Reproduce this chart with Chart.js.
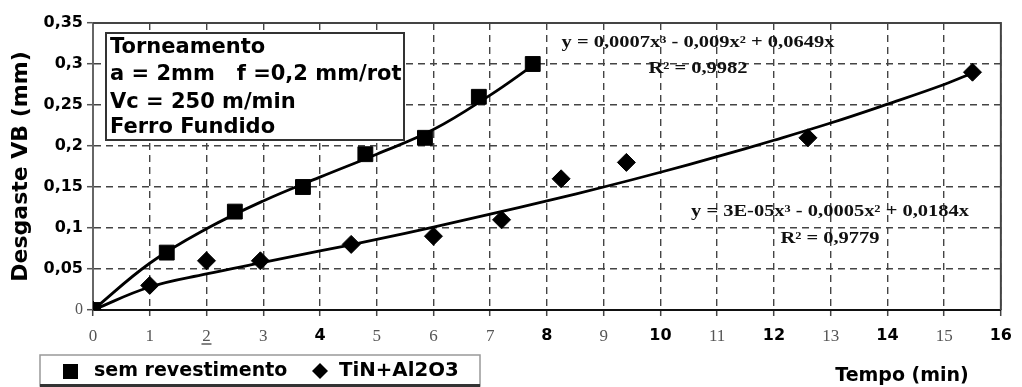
<!DOCTYPE html>
<html>
<head>
<meta charset="utf-8">
<script src="https://cdn.jsdelivr.net/npm/chart.js@4/dist/chart.umd.min.js"></script>
<style>
  body { margin: 0; background: #fff; }
  canvas { display: block; }
</style>
</head>
<body>
<canvas id="wear" width="1022" height="387"></canvas>
<script>
var semX = [0, 1.3, 2.5, 3.7, 4.8, 5.85, 6.8, 7.75];
var semY = [0, 0.07, 0.12, 0.15, 0.19, 0.21, 0.26, 0.30];
var tinX = [0, 1.0, 2.0, 2.95, 4.55, 6.0, 7.2, 8.25, 9.4, 12.6, 15.5];
var tinY = [0, 0.03, 0.06, 0.06, 0.08, 0.09, 0.11, 0.16, 0.18, 0.21, 0.29];

// trend lines as drawn in the picture
var semFitX = [0, 1, 2, 3, 4, 5, 6, 7, 7.75];
var semFitY = [0, 0.057, 0.099, 0.133, 0.162, 0.19, 0.22, 0.262, 0.298];
var tinFitX = [0, 1, 2, 3, 4, 5, 6, 7, 8, 9, 10, 11, 12, 13, 14, 15, 15.5];
var tinFitY = [0, 0.028, 0.044, 0.058, 0.072, 0.086, 0.101, 0.117, 0.133, 0.150, 0.168, 0.187, 0.207, 0.228, 0.251, 0.275, 0.289];

var xTicksBold = [4, 8, 10, 12, 14, 16];
var seriesNames = ['sem revestimento', 'TiN+Al2O3'];
var boxLines = ['Torneamento', 'a = 2mm   f =0,2 mm/rot', 'Vc = 250 m/min', 'Ferro Fundido'];
var eqSem = ['y = 0,0007x\u00b3 - 0,009x\u00b2 + 0,0649x', 'R\u00b2 = 0,9982'];
var eqTin = ['y = 3E-05x\u00b3 - 0,0005x\u00b2 + 0,0184x', 'R\u00b2 = 0,9779'];

var SANS = '"DejaVu Sans", Verdana, sans-serif';
var SERIF = '"Liberation Serif", "Times New Roman", serif';

function pts(xs, ys) {
  return xs.map(function (x, i) { return { x: x, y: ys[i] }; });
}

// text stretched a bit sideways, like the scanned picture
function wideText(ctx, txt, x, y, sx, align) {
  ctx.save();
  ctx.translate(x, y);
  ctx.scale(sx, 1);
  ctx.textAlign = align || 'center';
  ctx.fillText(txt, 0, 0);
  ctx.restore();
}

var extras = {
  id: 'extras',
  afterDraw: function (chart) {
    var ctx = chart.ctx, a = chart.chartArea;
    var xs = chart.scales.x;
    ctx.save();
    // plot frame
    ctx.strokeStyle = '#444';
    ctx.lineWidth = 2;
    ctx.beginPath();
    ctx.moveTo(a.left, a.top); ctx.lineTo(a.right, a.top); ctx.lineTo(a.right, a.bottom);
    ctx.stroke();

    // info box
    ctx.fillStyle = '#fff';
    ctx.fillRect(106, 33, 298, 107);
    ctx.strokeStyle = '#333';
    ctx.lineWidth = 2;
    ctx.strokeRect(106, 33, 298, 107);
    ctx.fillStyle = '#000';
    ctx.font = 'bold 21px ' + SANS;
    ctx.textBaseline = 'middle';
    var ly = [48, 75, 103, 128];
    boxLines.forEach(function (t, i) { wideText(ctx, t, 110, ly[i], 1, 'left'); });

    // trend equations
    ctx.font = 'bold 16px ' + SERIF;
    ctx.fillStyle = '#111';
    wideText(ctx, eqSem[0], 698, 43, 1.28);
    wideText(ctx, eqSem[1], 698, 69, 1.28);
    wideText(ctx, eqTin[0], 830, 212, 1.28);
    wideText(ctx, eqTin[1], 830, 239, 1.28);

    // underline under the "2" tick label
    var p2 = xs.getPixelForValue(2);
    ctx.strokeStyle = '#333';
    ctx.lineWidth = 1.2;
    ctx.beginPath(); ctx.moveTo(p2 - 5, 344); ctx.lineTo(p2 + 5, 344); ctx.stroke();

    // x axis title
    ctx.fillStyle = '#000';
    ctx.font = 'bold 19px ' + SANS;
    wideText(ctx, 'Tempo (min)', 902, 376, 1);

    // legend
    ctx.fillStyle = '#fff';
    ctx.fillRect(40, 355, 440, 31);
    ctx.strokeStyle = '#999';
    ctx.lineWidth = 1.5;
    ctx.strokeRect(40, 355, 440, 31);
    ctx.fillStyle = '#333';
    ctx.fillRect(40, 384, 440, 3);
    ctx.fillStyle = '#000';
    ctx.fillRect(63, 364, 15, 15);
    ctx.beginPath();
    ctx.moveTo(320, 363); ctx.lineTo(328, 371); ctx.lineTo(320, 379); ctx.lineTo(312, 371);
    ctx.closePath(); ctx.fill();
    ctx.font = 'bold 19px ' + SANS;
    wideText(ctx, seriesNames[0], 94, 371, 1, 'left');
    wideText(ctx, seriesNames[1], 339, 371, 1.04, 'left');
    ctx.restore();
  }
};

new Chart(document.getElementById('wear'), {
  type: 'scatter',
  data: {
    datasets: [
      { label: 'fit sem', data: pts(semFitX, semFitY), showLine: true, pointRadius: 0,
        borderColor: '#000', borderWidth: 2.8, tension: 0.4 },
      { label: 'fit tin', data: pts(tinFitX, tinFitY), showLine: true, pointRadius: 0,
        borderColor: '#000', borderWidth: 2.8, tension: 0.4 },
      { label: seriesNames[0], data: pts(semX, semY), pointStyle: 'rect', pointRadius: 10.5,
        backgroundColor: '#000', borderColor: '#000', borderWidth: 1 },
      { label: seriesNames[1], data: pts(tinX, tinY), pointStyle: 'rectRot', pointRadius: 9,
        backgroundColor: '#000', borderColor: '#000', borderWidth: 1 }
    ]
  },
  options: {
    responsive: false,
    animation: false,
    layout: { padding: { top: 23, right: 19, left: 0, bottom: 0 } },
    plugins: { legend: { display: false }, tooltip: { enabled: false } },
    scales: {
      x: {
        type: 'linear', min: 0, max: 16,
        afterFit: function (s) { s.height = 77; },
        border: { display: true, color: '#111', width: 2, dash: [7, 5] },
        grid: { color: '#444', lineWidth: 1.4, tickLength: 6,
                tickBorderDash: [], tickColor: '#444', tickWidth: 1.5 },
        ticks: {
          stepSize: 1, padding: 10,
          font: function (c) {
            var v = c.tick ? c.tick.value : 0;
            return xTicksBold.indexOf(v) >= 0 ? { family: SANS, size: 16, weight: 'bold' }
                                              : { family: SERIF, size: 17, weight: 'normal' };
          },
          color: function (c) {
            var v = c.tick ? c.tick.value : 0;
            return xTicksBold.indexOf(v) >= 0 ? '#000' : '#555';
          }
        }
      },
      y: {
        min: 0, max: 0.35,
        afterFit: function (s) { s.width = 93; },
        border: { display: true, color: '#666', width: 2, dash: [7, 5] },
        grid: { color: '#444', lineWidth: 1.4, tickLength: 6,
                tickBorderDash: [], tickColor: '#555', tickWidth: 1.5 },
        title: { display: true, text: 'Desgaste VB (mm)', color: '#000',
                 font: { family: SANS, size: 22, weight: 'bold' }, padding: { top: 8, bottom: 0 } },
        ticks: {
          stepSize: 0.05, padding: 4,
          callback: function (v) { return v === 0 ? '0' : String(+v.toFixed(2)).replace('.', ','); },
          font: function (c) {
            var v = c.tick ? c.tick.value : 1;
            return v === 0 ? { family: SERIF, size: 16, weight: 'normal' }
                           : { family: SANS, size: 16, weight: 'bold' };
          },
          color: function (c) {
            var v = c.tick ? c.tick.value : 1;
            return v === 0 ? '#555' : '#000';
          }
        }
      }
    }
  },
  plugins: [extras]
});
</script>
</body>
</html>
